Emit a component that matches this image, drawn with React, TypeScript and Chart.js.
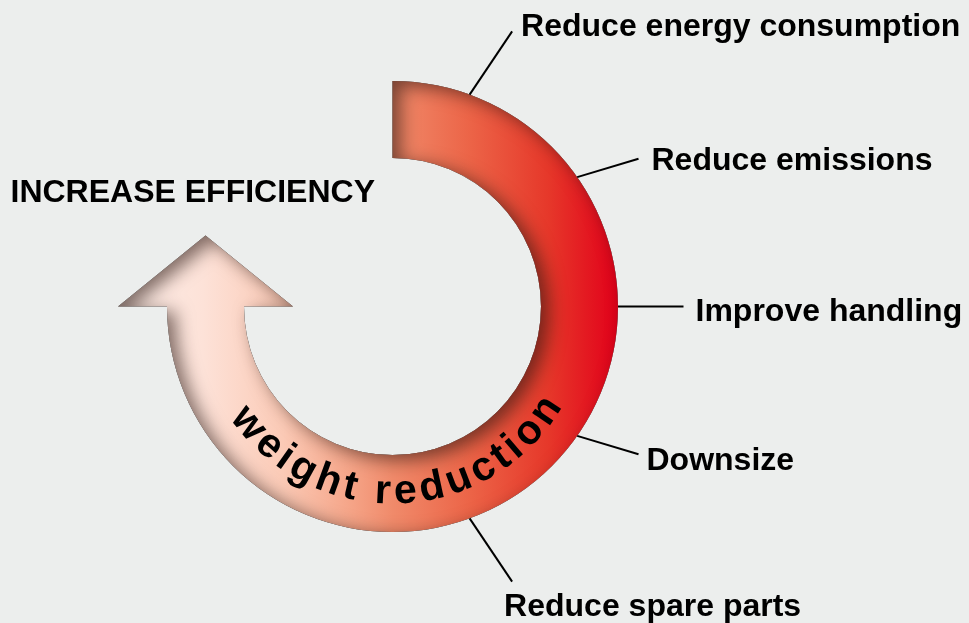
import React, { useEffect, useRef } from 'react';
import { Chart, registerables } from 'chart.js';

Chart.register(...registerables);

// ---------- data ----------
const loopParts = ['weight reduction', 'open'];
const loopShares = [75, 25]; // share of the full turn covered by the loop
const ringText = 'weight reduction';
const titleText = 'INCREASE EFFICIENCY';
const calloutLabels = [
  'Reduce energy consumption',
  'Reduce emissions',
  'Improve handling',
  'Downsize',
  'Reduce spare parts',
];
const calloutRimAngles = [-70, -35, 0, 35, 70]; // degrees, where each leader touches the loop

// ---------- layout / style ----------
const BG = '#eceeed';
const FONT = '"Liberation Sans", Arial, Helvetica, sans-serif';
const LEADER_END = [
  { a: -66.5, r: 300, dx: 9, dy: 5 },
  { a: -31, r: 287, dx: 13, dy: 11 },
  { a: 0, r: 291, dx: 12, dy: 14 },
  { a: 31, r: 287, dx: 8, dy: 16 },
  { a: 66.5, r: 300, dx: -8, dy: 34 },
];
const GRAD_STOPS: [number, string][] = [
  [0.0, '#fdeee8'],
  [0.17, '#fde2d8'],
  [0.33, '#fbcab6'],
  [0.47, '#f5a386'],
  [0.55, '#f08a6a'],
  [0.7, '#ec6548'],
  [0.86, '#e6382a'],
  [1.0, '#e2001a'],
];
const HEAD_WING = 49;
const HEAD_LEN = 71;

let gradCache: { key: string; g: CanvasGradient } | null = null;
function getGradient(chart: any): CanvasGradient | string {
  const area = chart.chartArea;
  if (!area) return '#f08a6a';
  const key = `${area.left}-${area.right}`;
  if (gradCache && gradCache.key === key) return gradCache.g;
  const g = chart.ctx.createLinearGradient(area.left - HEAD_WING, 0, area.right, 0);
  GRAD_STOPS.forEach(([o, c]) => g.addColorStop(o, c));
  gradCache = { key, g };
  return g;
}

const rad = (d: number) => (d * Math.PI) / 180;

const diagramPlugin = {
  id: 'diagramPlugin',
  beforeDraw(chart: any) {
    const { ctx, width, height } = chart;
    ctx.save();
    ctx.fillStyle = BG;
    ctx.fillRect(0, 0, width, height);
    ctx.restore();
  },
  afterDatasetsDraw(chart: any) {
    const ctx: CanvasRenderingContext2D = chart.ctx;
    const el = chart.getDatasetMeta(0).data[0];
    const p = el.getProps(['x', 'y', 'innerRadius', 'outerRadius', 'startAngle', 'endAngle'], true);
    const cx = p.x, cy = p.y, ri = p.innerRadius, ro = p.outerRadius, a0 = p.startAngle, a1 = p.endAngle;
    const rm = (ri + ro) / 2;
    const ux = Math.cos(a1), uy = Math.sin(a1);
    const tx = -Math.sin(a1), ty = Math.cos(a1);
    const P = (r: number, back = 0) => [cx + r * ux - tx * back, cy + r * uy - ty * back];
    const tip = [cx + rm * ux + tx * HEAD_LEN, cy + rm * uy + ty * HEAD_LEN];

    // arrow head
    ctx.save();
    ctx.beginPath();
    let q = P(ro, 1.2); ctx.moveTo(q[0], q[1]);
    q = P(ro, 0); ctx.lineTo(q[0], q[1]);
    q = P(ro + HEAD_WING); ctx.lineTo(q[0], q[1]);
    ctx.lineTo(tip[0], tip[1]);
    q = P(ri - HEAD_WING); ctx.lineTo(q[0], q[1]);
    q = P(ri, 0); ctx.lineTo(q[0], q[1]);
    q = P(ri, 1.2); ctx.lineTo(q[0], q[1]);
    ctx.closePath();
    ctx.fillStyle = getGradient(chart) as any;
    ctx.fill();
    ctx.restore();

    const shape = () => {
      ctx.moveTo(cx + ro * Math.cos(a0), cy + ro * Math.sin(a0));
      ctx.arc(cx, cy, ro, a0, a1, false);
      let s = P(ro + HEAD_WING); ctx.lineTo(s[0], s[1]);
      ctx.lineTo(tip[0], tip[1]);
      s = P(ri - HEAD_WING); ctx.lineTo(s[0], s[1]);
      s = P(ri); ctx.lineTo(s[0], s[1]);
      ctx.arc(cx, cy, ri, a1, a0, true);
      ctx.closePath();
    };

    // inner shadow (bevel look)
    ctx.save();
    ctx.beginPath();
    shape();
    ctx.clip();
    ctx.beginPath();
    ctx.rect(-2000, -2000, 5000, 5000);
    shape();
    ctx.shadowColor = 'rgba(40,20,15,0.6)';
    ctx.shadowBlur = 18;
    ctx.shadowOffsetX = 8;
    ctx.shadowOffsetY = 5;
    ctx.fillStyle = '#000';
    ctx.fill('evenodd');
    ctx.restore();

    // curved ring text
    ctx.save();
    ctx.font = `bold 41px ${FONT}`;
    ctx.fillStyle = '#000';
    ctx.textAlign = 'center';
    ctx.textBaseline = 'alphabetic';
    const spacing = 4.5;
    const rb = ro - 28.5;
    const chars = ringText.split('');
    const widths = chars.map((c) => ctx.measureText(c).width);
    const total = widths.reduce((s, w) => s + w, 0) + spacing * (chars.length - 1);
    const thetaC = rad(88);
    let s = 0;
    chars.forEach((c, i) => {
      const mid = s + widths[i] / 2;
      const th = thetaC + (total / 2 - mid) / rb;
      ctx.save();
      ctx.translate(cx + rb * Math.cos(th), cy + rb * Math.sin(th));
      ctx.rotate(th - Math.PI / 2);
      ctx.fillText(c, 0, 0);
      ctx.restore();
      s += widths[i] + spacing;
    });
    ctx.restore();

    // callouts
    ctx.save();
    ctx.strokeStyle = '#000';
    ctx.lineWidth = 2;
    ctx.fillStyle = '#000';
    ctx.font = `bold 32px ${FONT}`;
    ctx.textAlign = 'left';
    ctx.textBaseline = 'alphabetic';
    calloutLabels.forEach((label, i) => {
      const a = rad(calloutRimAngles[i]);
      const L = LEADER_END[i];
      const ea = rad(L.a);
      const sx = cx + ro * Math.cos(a), sy = cy + ro * Math.sin(a);
      const ex = cx + L.r * Math.cos(ea), ey = cy + L.r * Math.sin(ea);
      ctx.beginPath();
      ctx.moveTo(sx, sy);
      ctx.lineTo(ex, ey);
      ctx.stroke();
      ctx.fillText(label, ex + L.dx, ey + L.dy);
    });
    ctx.fillText(titleText, 10.5, 201.5);
    ctx.restore();
  },
};

export default function App() {
  const ref = useRef<HTMLCanvasElement | null>(null);
  useEffect(() => {
    if (!ref.current) return;
    gradCache = null;
    const chart = new Chart(ref.current, {
      type: 'doughnut',
      data: {
        labels: loopParts,
        datasets: [
          {
            data: loopShares,
            backgroundColor: (c: any) => (c.dataIndex === 0 ? getGradient(c.chart) : 'rgba(0,0,0,0)'),
            borderWidth: 0,
            offset: 0,
            hoverOffset: 0,
          } as any,
        ],
      },
      options: {
        animation: false,
        responsive: true,
        maintainAspectRatio: false,
        events: [],
        rotation: 0,
        circumference: 360,
        cutout: '65.85%',
        layout: { padding: { left: 167, right: 351, top: 81, bottom: 91 } },
        plugins: { legend: { display: false }, tooltip: { enabled: false } },
      } as any,
      plugins: [diagramPlugin],
    });
    return () => chart.destroy();
  }, []);
  return (
    <div style={{ position: 'absolute', left: 0, top: 0, width: 969, height: 623, background: BG }}>
      <canvas ref={ref} />
    </div>
  );
}
